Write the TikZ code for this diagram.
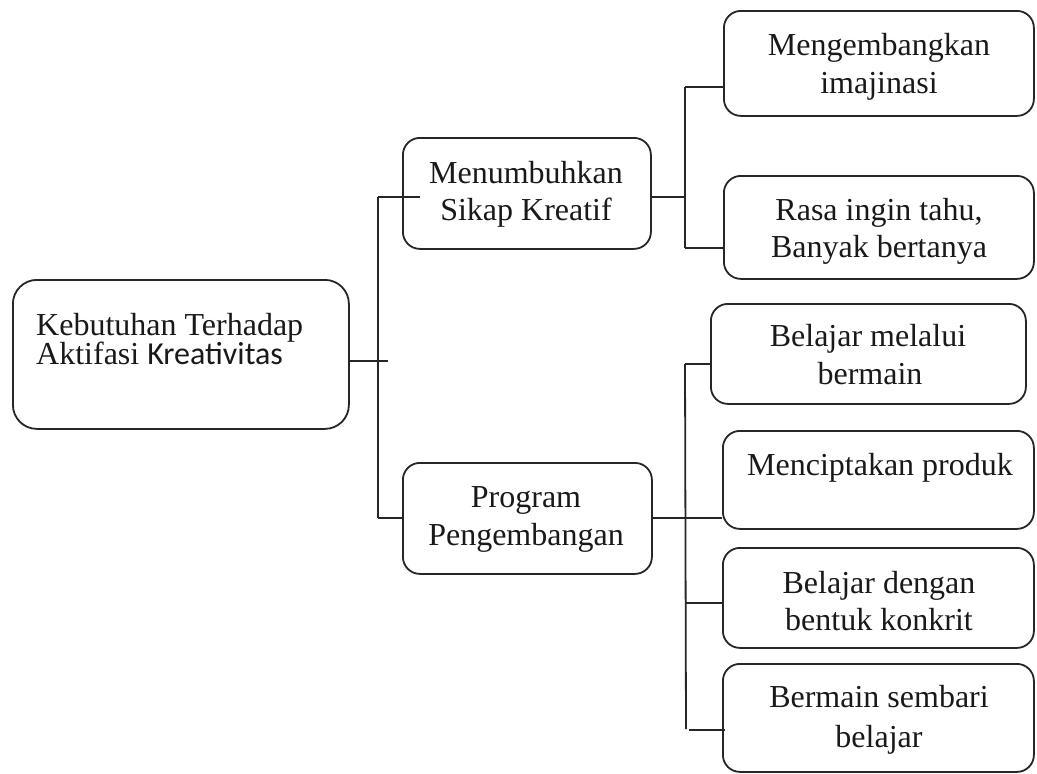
\documentclass[tikz,border=0pt]{standalone}
\usepackage{fontspec}
\setmainfont{Liberation Serif}
\newfontfamily\calib{Carlito}
\begin{document}
\begin{tikzpicture}[x=1pt,y=-1pt,
  box/.style={draw=black!85, line width=1.8pt, rounded corners=17pt, anchor=north west, inner sep=0pt},
  txt/.style={anchor=base, inner sep=0pt, font=\fontsize{32}{37.5}\selectfont, text=black!90},
  ln/.style={draw=black!85, line width=1.8pt}]
\useasboundingbox (0,0) rectangle (1037,774);
% boxes
\node[box, rounded corners=24pt, minimum width=336pt, minimum height=149pt] (main) at (12,279) {};
\node[box, minimum width=248pt, minimum height=111pt] (menum) at (402,137) {};
\node[box, minimum width=249pt, minimum height=111pt] (prog) at (402,462) {};
\node[box, minimum width=310pt, minimum height=105pt] (imaj) at (723,10) {};
\node[box, minimum width=310pt, minimum height=103pt] (rasa) at (723,175) {};
\node[box, minimum width=315pt, minimum height=100pt] (melalui) at (710,303) {};
\node[box, minimum width=311pt, minimum height=98pt] (cipta) at (722,430) {};
\node[box, minimum width=311pt, minimum height=100pt] (dengan) at (722,547) {};
\node[box, minimum width=311pt, minimum height=108pt] (sembari) at (722,663) {};
% texts
\node[txt, anchor=base west] (t1a) at (36,335) {Kebutuhan Terhadap};
\node[txt, anchor=base west] (t1b) at (36,364) {Aktifasi {\calib Kreativitas}};
\node[txt] (t2a) at (526,183) {Menumbuhkan};
\node[txt] (t2b) at (526,220) {Sikap Kreatif};
\node[txt] (t3a) at (526,507) {Program};
\node[txt] (t3b) at (526,545) {Pengembangan};
\node[txt] (t4a) at (879,55) {Mengembangkan};
\node[txt] (t4b) at (879,93) {imajinasi};
\node[txt] (t5a) at (879,220) {Rasa ingin tahu,};
\node[txt] (t5b) at (879,257) {Banyak bertanya};
\node[txt] (t6a) at (868,346) {Belajar melalui};
\node[txt] (t6b) at (870,384) {bermain};
\node[txt] (t7a) at (880,475) {Menciptakan produk};
\node[txt] (t8a) at (879,593) {Belajar dengan};
\node[txt] (t8b) at (879,630) {bentuk konkrit};
\node[txt] (t9a) at (879,707) {Bermain sembari};
\node[txt] (t9b) at (879,747) {belajar};
% junctions
\coordinate (ja) at (378,197);
\coordinate (jb) at (378,518);
\coordinate (jm) at (378,361);
\coordinate (jc) at (685,197);
\coordinate (jc1) at (685,87);
\coordinate (jc2) at (685,248);
\coordinate (jd) at (685,518);
\coordinate (jd1) at (685,364);
\coordinate (jd2) at (685,603);
\coordinate (jd3) at (686,729);
\coordinate (je3) at (689,730);
% connectors level 1
\draw[ln] (main.east |- jm) -- ([xshift=10pt]jm);
\draw[ln] (ja) -- (jb);
\draw[ln] (ja) -- ([xshift=18pt]menum.west |- ja);
\draw[ln] (jb) -- (prog.west |- jb);
% connectors level 2 (upper)
\draw[ln] (menum.east |- jc) -- (jc);
\draw[ln] (jc1) -- (jc2);
\draw[ln] (jc1) -- (imaj.west |- jc1);
\draw[ln] (jc2) -- (rasa.west |- jc2);
% connectors level 2 (lower)
\draw[ln] (prog.east |- jd) -- (cipta.west |- jd);
\draw[ln] (jd1) -- (jd3);
\draw[ln] (jd1) -- (melalui.west |- jd1);
\draw[ln] (jd2) -- (dengan.west |- jd2);
\draw[ln] (je3) -- ([xshift=3pt]sembari.west |- je3);
\end{tikzpicture}
\end{document}
